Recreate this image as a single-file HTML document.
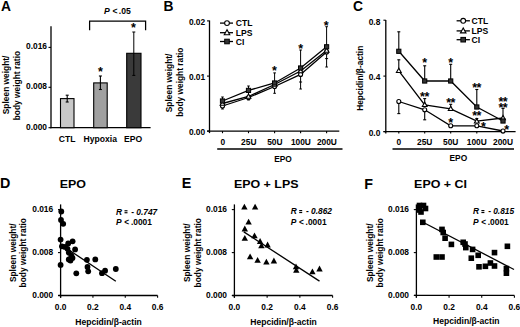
<!DOCTYPE html>
<html><head><meta charset="utf-8"><style>
html,body{margin:0;padding:0;background:#fff;width:520px;height:327px;overflow:hidden}
svg{display:block;font-family:'Liberation Sans',sans-serif;font-weight:bold}
</style></head><body>
<svg width="520" height="327" viewBox="0 0 520 327" fill="#000">
<rect width="520" height="327" fill="#fff"/>
<text x="0.9" y="10.9" font-size="13.8" text-anchor="start">A</text>
<line x1="51.0" y1="26.3" x2="51.0" y2="128.35" stroke="#000" stroke-width="1.3"/>
<line x1="50.35" y1="127.7" x2="150.6" y2="127.7" stroke="#000" stroke-width="1.3"/>
<line x1="48.5" y1="47.4" x2="51.0" y2="47.4" stroke="#000" stroke-width="1.1"/>
<text x="47.0" y="48.699999999999996" font-size="8.4" text-anchor="end">0.016</text>
<line x1="48.5" y1="87.3" x2="51.0" y2="87.3" stroke="#000" stroke-width="1.1"/>
<text x="47.0" y="88.6" font-size="8.4" text-anchor="end">0.008</text>
<line x1="48.5" y1="127.7" x2="51.0" y2="127.7" stroke="#000" stroke-width="1.1"/>
<text x="47.0" y="129.6" font-size="8.4" text-anchor="end">0.000</text>
<text transform="translate(9.2 84.9) rotate(-90)" font-size="8.4" text-anchor="middle">Spleen weight/</text>
<text transform="translate(19.6 85.6) rotate(-90)" font-size="8.4" text-anchor="middle">body weight ratio</text>
<rect x="60.5" y="98.6" width="13.5" height="29.10000000000001" fill="#c8c8c8" stroke="#000" stroke-width="1.1"/>
<line x1="67.2" y1="95.2" x2="67.2" y2="102.0" stroke="#000" stroke-width="1.1"/>
<line x1="65.7" y1="95.2" x2="68.7" y2="95.2" stroke="#000" stroke-width="1.1"/>
<line x1="65.7" y1="102.0" x2="68.7" y2="102.0" stroke="#000" stroke-width="1.1"/>
<rect x="93.7" y="82.9" width="13.5" height="44.8" fill="#a0a0a0" stroke="#000" stroke-width="1.1"/>
<line x1="100.4" y1="76.0" x2="100.4" y2="89.5" stroke="#000" stroke-width="1.1"/>
<line x1="98.9" y1="76.0" x2="101.9" y2="76.0" stroke="#000" stroke-width="1.1"/>
<line x1="98.9" y1="89.5" x2="101.9" y2="89.5" stroke="#000" stroke-width="1.1"/>
<rect x="126.7" y="53.3" width="14.299999999999997" height="74.4" fill="#3a3a3a" stroke="#000" stroke-width="1.1"/>
<line x1="133.8" y1="32.0" x2="133.8" y2="75.4" stroke="#000" stroke-width="1.0"/>
<line x1="132.3" y1="32.0" x2="135.3" y2="32.0" stroke="#000" stroke-width="1.0"/>
<line x1="132.3" y1="75.4" x2="135.3" y2="75.4" stroke="#000" stroke-width="1.0"/>
<text x="100.5" y="76.25" font-size="12.5" text-anchor="middle">*</text>
<text x="133.4" y="32.45" font-size="12.5" text-anchor="middle">*</text>
<polyline points="89.6,30.2 89.6,21.0 145.6,21.0 145.6,30.2" fill="none" stroke="#000" stroke-width="1.25" stroke-linejoin="miter"/>
<text x="104.0" y="13.9" font-size="8.6" text-anchor="start"><tspan font-style="italic">P</tspan><tspan x="112.4">&lt;</tspan><tspan x="118.8">.05</tspan></text>
<text x="67.2" y="142.3" font-size="8.6" text-anchor="middle">CTL</text>
<text x="100.3" y="142.3" font-size="8.6" text-anchor="middle">Hypoxia</text>
<text x="133.2" y="142.3" font-size="8.6" text-anchor="middle">EPO</text>
<text x="163.5" y="10.7" font-size="13.8" text-anchor="start">B</text>
<line x1="209.5" y1="20.5" x2="209.5" y2="133.1" stroke="#000" stroke-width="1.3"/>
<line x1="207.1" y1="131.1" x2="339.3" y2="131.1" stroke="#000" stroke-width="1.3"/>
<line x1="207" y1="20.9" x2="209.5" y2="20.9" stroke="#000" stroke-width="1.1"/>
<text x="205.2" y="24.9" font-size="8.4" text-anchor="end">0.02</text>
<line x1="207" y1="76.1" x2="209.5" y2="76.1" stroke="#000" stroke-width="1.1"/>
<text x="205.2" y="79.8" font-size="8.4" text-anchor="end">0.01</text>
<line x1="207" y1="131.1" x2="209.5" y2="131.1" stroke="#000" stroke-width="1.1"/>
<text x="205.2" y="134.9" font-size="8.4" text-anchor="end">0.00</text>
<text transform="translate(172.4 82.9) rotate(-90)" font-size="8.4" text-anchor="middle">Spleen weight/</text>
<text transform="translate(182.8 82.2) rotate(-90)" font-size="8.4" text-anchor="middle">body weight ratio</text>
<line x1="222.5" y1="131.1" x2="222.5" y2="133.2" stroke="#000" stroke-width="1.1"/>
<text x="222.8" y="144.8" font-size="8.4" text-anchor="middle">0</text>
<line x1="248.5" y1="131.1" x2="248.5" y2="133.2" stroke="#000" stroke-width="1.1"/>
<text x="248.8" y="144.8" font-size="8.4" text-anchor="middle">25U</text>
<line x1="274.6" y1="131.1" x2="274.6" y2="133.2" stroke="#000" stroke-width="1.1"/>
<text x="274.90000000000003" y="144.8" font-size="8.4" text-anchor="middle">50U</text>
<line x1="300.6" y1="131.1" x2="300.6" y2="133.2" stroke="#000" stroke-width="1.1"/>
<text x="300.90000000000003" y="144.8" font-size="8.4" text-anchor="middle">100U</text>
<line x1="326.6" y1="131.1" x2="326.6" y2="133.2" stroke="#000" stroke-width="1.1"/>
<text x="326.90000000000003" y="144.8" font-size="8.4" text-anchor="middle">200U</text>
<line x1="217.2" y1="149.1" x2="342.5" y2="149.1" stroke="#000" stroke-width="1.5"/>
<text x="283" y="161.5" font-size="8.4" text-anchor="middle">EPO</text>
<line x1="222.5" y1="97.0" x2="222.5" y2="109.0" stroke="#000" stroke-width="1.0"/>
<line x1="221.2" y1="97.0" x2="223.8" y2="97.0" stroke="#000" stroke-width="1.0"/>
<line x1="221.2" y1="109.0" x2="223.8" y2="109.0" stroke="#000" stroke-width="1.0"/>
<line x1="248.5" y1="86.0" x2="248.5" y2="100.0" stroke="#000" stroke-width="1.0"/>
<line x1="247.2" y1="86.0" x2="249.8" y2="86.0" stroke="#000" stroke-width="1.0"/>
<line x1="247.2" y1="100.0" x2="249.8" y2="100.0" stroke="#000" stroke-width="1.0"/>
<line x1="274.6" y1="72.9" x2="274.6" y2="93.3" stroke="#000" stroke-width="1.0"/>
<line x1="273.3" y1="72.9" x2="275.90000000000003" y2="72.9" stroke="#000" stroke-width="1.0"/>
<line x1="273.3" y1="93.3" x2="275.90000000000003" y2="93.3" stroke="#000" stroke-width="1.0"/>
<line x1="300.6" y1="50.0" x2="300.6" y2="89.0" stroke="#000" stroke-width="1.0"/>
<line x1="299.3" y1="50.0" x2="301.90000000000003" y2="50.0" stroke="#000" stroke-width="1.0"/>
<line x1="299.3" y1="89.0" x2="301.90000000000003" y2="89.0" stroke="#000" stroke-width="1.0"/>
<line x1="326.6" y1="26.7" x2="326.6" y2="67.0" stroke="#000" stroke-width="1.0"/>
<line x1="325.3" y1="26.7" x2="327.90000000000003" y2="26.7" stroke="#000" stroke-width="1.0"/>
<line x1="325.3" y1="67.0" x2="327.90000000000003" y2="67.0" stroke="#000" stroke-width="1.0"/>
<line x1="299.1" y1="82" x2="302.1" y2="82" stroke="#000" stroke-width="1.0"/>
<line x1="325.1" y1="58.6" x2="328.1" y2="58.6" stroke="#000" stroke-width="1.0"/>
<polyline points="222.5,106.0 248.5,97.5 274.6,86.5 300.6,74.4 326.6,52.0" fill="none" stroke="#000" stroke-width="1.3" stroke-linejoin="miter"/>
<polyline points="222.5,103.5 248.5,96.5 274.6,84.5 300.6,71.0 326.6,50.5" fill="none" stroke="#000" stroke-width="1.3" stroke-linejoin="miter"/>
<polyline points="222.5,101.0 248.5,90.4 274.6,83.0 300.6,68.0 326.6,46.8" fill="none" stroke="#000" stroke-width="1.3" stroke-linejoin="miter"/>
<circle cx="222.5" cy="106.0" r="2.0" fill="#fff" stroke="#000" stroke-width="1.1"/>
<circle cx="248.5" cy="97.5" r="2.0" fill="#fff" stroke="#000" stroke-width="1.1"/>
<circle cx="274.6" cy="86.5" r="2.0" fill="#fff" stroke="#000" stroke-width="1.1"/>
<circle cx="300.6" cy="74.4" r="2.0" fill="#fff" stroke="#000" stroke-width="1.1"/>
<circle cx="326.6" cy="52.0" r="2.0" fill="#fff" stroke="#000" stroke-width="1.1"/>
<polygon points="222.5,100.908 220.1,105.228 224.9,105.228" fill="#fff" stroke="#000" stroke-width="1.1"/>
<polygon points="248.5,93.908 246.1,98.228 250.9,98.228" fill="#fff" stroke="#000" stroke-width="1.1"/>
<polygon points="274.6,81.908 272.20000000000005,86.228 277.0,86.228" fill="#fff" stroke="#000" stroke-width="1.1"/>
<polygon points="300.6,68.408 298.20000000000005,72.728 303.0,72.728" fill="#fff" stroke="#000" stroke-width="1.1"/>
<polygon points="326.6,47.908 324.20000000000005,52.228 329.0,52.228" fill="#fff" stroke="#000" stroke-width="1.1"/>
<rect x="220.4" y="98.9" width="4.2" height="4.2" fill="#333" stroke="#000" stroke-width="1"/>
<rect x="246.4" y="88.30000000000001" width="4.2" height="4.2" fill="#333" stroke="#000" stroke-width="1"/>
<rect x="272.5" y="80.9" width="4.2" height="4.2" fill="#333" stroke="#000" stroke-width="1"/>
<rect x="298.5" y="65.9" width="4.2" height="4.2" fill="#333" stroke="#000" stroke-width="1"/>
<rect x="324.5" y="44.699999999999996" width="4.2" height="4.2" fill="#333" stroke="#000" stroke-width="1"/>
<text x="274.4" y="75.05" font-size="12.5" text-anchor="middle">*</text>
<text x="300.6" y="53.05" font-size="12.5" text-anchor="middle">*</text>
<text x="326.3" y="29.95" font-size="12.5" text-anchor="middle">*</text>
<line x1="220" y1="23.1" x2="233" y2="23.1" stroke="#000" stroke-width="1.3"/>
<circle cx="227.0" cy="23.1" r="2.4" fill="#fff" stroke="#000" stroke-width="1.1"/>
<text x="235.8" y="26.200000000000003" font-size="8.6" text-anchor="start">CTL</text>
<line x1="220" y1="32.7" x2="233" y2="32.7" stroke="#000" stroke-width="1.3"/>
<polygon points="227.0,29.730000000000004 224.25,34.68 229.75,34.68" fill="#fff" stroke="#000" stroke-width="1.1"/>
<text x="235.8" y="35.800000000000004" font-size="8.6" text-anchor="start">LPS</text>
<line x1="220" y1="41.5" x2="233" y2="41.5" stroke="#000" stroke-width="1.3"/>
<rect x="224.7" y="39.2" width="4.6" height="4.6" fill="#333" stroke="#000" stroke-width="1"/>
<text x="235.8" y="44.6" font-size="8.6" text-anchor="start">CI</text>
<text x="353.1" y="11.3" font-size="13.8" text-anchor="start">C</text>
<line x1="385.8" y1="20.0" x2="385.8" y2="133.6" stroke="#000" stroke-width="1.3"/>
<line x1="383.5" y1="131.6" x2="515.6" y2="131.6" stroke="#000" stroke-width="1.3"/>
<line x1="383.4" y1="20.2" x2="385.8" y2="20.2" stroke="#000" stroke-width="1.1"/>
<text x="380.3" y="24.9" font-size="8.4" text-anchor="end">0.8</text>
<line x1="383.4" y1="76.1" x2="385.8" y2="76.1" stroke="#000" stroke-width="1.1"/>
<text x="380.3" y="79.8" font-size="8.4" text-anchor="end">0.4</text>
<line x1="383.4" y1="131.6" x2="385.8" y2="131.6" stroke="#000" stroke-width="1.1"/>
<text x="380.3" y="135.8" font-size="8.4" text-anchor="end">0.0</text>
<text transform="translate(363.3 78.3) rotate(-90)" font-size="8.4" text-anchor="middle">Hepcidin/β-actin</text>
<line x1="398.8" y1="131.6" x2="398.8" y2="133.6" stroke="#000" stroke-width="1.1"/>
<text x="398.8" y="144.8" font-size="8.4" text-anchor="middle">0</text>
<line x1="424.7" y1="131.6" x2="424.7" y2="133.6" stroke="#000" stroke-width="1.1"/>
<text x="424.7" y="144.8" font-size="8.4" text-anchor="middle">25U</text>
<line x1="450.7" y1="131.6" x2="450.7" y2="133.6" stroke="#000" stroke-width="1.1"/>
<text x="450.7" y="144.8" font-size="8.4" text-anchor="middle">50U</text>
<line x1="476.8" y1="131.6" x2="476.8" y2="133.6" stroke="#000" stroke-width="1.1"/>
<text x="476.8" y="144.8" font-size="8.4" text-anchor="middle">100U</text>
<line x1="503.0" y1="131.6" x2="503.0" y2="133.6" stroke="#000" stroke-width="1.1"/>
<text x="503.0" y="144.8" font-size="8.4" text-anchor="middle">200U</text>
<line x1="392.5" y1="149.1" x2="514" y2="149.1" stroke="#000" stroke-width="1.5"/>
<text x="458.3" y="161.0" font-size="8.4" text-anchor="middle">EPO</text>
<line x1="398.8" y1="51.3" x2="398.8" y2="31.8" stroke="#000" stroke-width="1.1"/>
<line x1="397.3" y1="31.8" x2="400.3" y2="31.8" stroke="#000" stroke-width="1.1"/>
<line x1="398.8" y1="70.8" x2="398.8" y2="59.8" stroke="#000" stroke-width="1.1"/>
<line x1="397.3" y1="59.8" x2="400.3" y2="59.8" stroke="#000" stroke-width="1.1"/>
<line x1="398.8" y1="101.5" x2="398.8" y2="113.6" stroke="#000" stroke-width="1.1"/>
<line x1="397.3" y1="113.6" x2="400.3" y2="113.6" stroke="#000" stroke-width="1.1"/>
<line x1="424.7" y1="81.0" x2="424.7" y2="65.8" stroke="#000" stroke-width="1.1"/>
<line x1="423.2" y1="65.8" x2="426.2" y2="65.8" stroke="#000" stroke-width="1.1"/>
<line x1="424.7" y1="104.8" x2="424.7" y2="98.6" stroke="#000" stroke-width="1.1"/>
<line x1="423.2" y1="98.6" x2="426.2" y2="98.6" stroke="#000" stroke-width="1.1"/>
<line x1="424.7" y1="109.8" x2="424.7" y2="119.8" stroke="#000" stroke-width="1.1"/>
<line x1="423.2" y1="119.8" x2="426.2" y2="119.8" stroke="#000" stroke-width="1.1"/>
<line x1="450.7" y1="81.0" x2="450.7" y2="64.3" stroke="#000" stroke-width="1.1"/>
<line x1="449.2" y1="64.3" x2="452.2" y2="64.3" stroke="#000" stroke-width="1.1"/>
<line x1="450.7" y1="108.8" x2="450.7" y2="104.3" stroke="#000" stroke-width="1.1"/>
<line x1="449.2" y1="104.3" x2="452.2" y2="104.3" stroke="#000" stroke-width="1.1"/>
<line x1="476.8" y1="107.0" x2="476.8" y2="89.5" stroke="#000" stroke-width="1.1"/>
<line x1="475.3" y1="89.5" x2="478.3" y2="89.5" stroke="#000" stroke-width="1.1"/>
<line x1="476.8" y1="121.2" x2="476.8" y2="118.5" stroke="#000" stroke-width="1.1"/>
<line x1="475.3" y1="118.5" x2="478.3" y2="118.5" stroke="#000" stroke-width="1.1"/>
<line x1="503.0" y1="121.0" x2="503.0" y2="108.4" stroke="#000" stroke-width="1.1"/>
<line x1="501.5" y1="108.4" x2="504.5" y2="108.4" stroke="#000" stroke-width="1.1"/>
<polyline points="398.8,101.5 424.7,109.8 450.7,125.8 476.8,125.8 503.0,131.0" fill="none" stroke="#000" stroke-width="1.3" stroke-linejoin="miter"/>
<polyline points="398.8,70.8 424.7,104.8 450.7,108.8 476.8,121.2 503.0,118.0" fill="none" stroke="#000" stroke-width="1.3" stroke-linejoin="miter"/>
<polyline points="398.8,51.3 424.7,81.0 450.7,81.0 476.8,107.0 503.0,121.0" fill="none" stroke="#000" stroke-width="1.3" stroke-linejoin="miter"/>
<circle cx="398.8" cy="101.5" r="2.0" fill="#fff" stroke="#000" stroke-width="1.1"/>
<circle cx="424.7" cy="109.8" r="2.0" fill="#fff" stroke="#000" stroke-width="1.1"/>
<circle cx="450.7" cy="125.8" r="2.0" fill="#fff" stroke="#000" stroke-width="1.1"/>
<circle cx="476.8" cy="125.8" r="2.0" fill="#fff" stroke="#000" stroke-width="1.1"/>
<circle cx="503.0" cy="131.0" r="2.0" fill="#fff" stroke="#000" stroke-width="1.1"/>
<polygon points="398.8,68.208 396.40000000000003,72.52799999999999 401.2,72.52799999999999" fill="#fff" stroke="#000" stroke-width="1.1"/>
<polygon points="424.7,102.208 422.3,106.52799999999999 427.09999999999997,106.52799999999999" fill="#fff" stroke="#000" stroke-width="1.1"/>
<polygon points="450.7,106.208 448.3,110.52799999999999 453.09999999999997,110.52799999999999" fill="#fff" stroke="#000" stroke-width="1.1"/>
<polygon points="476.8,118.608 474.40000000000003,122.928 479.2,122.928" fill="#fff" stroke="#000" stroke-width="1.1"/>
<polygon points="503.0,115.408 500.6,119.728 505.4,119.728" fill="#fff" stroke="#000" stroke-width="1.1"/>
<rect x="396.7" y="49.199999999999996" width="4.2" height="4.2" fill="#333" stroke="#000" stroke-width="1"/>
<rect x="422.59999999999997" y="78.9" width="4.2" height="4.2" fill="#333" stroke="#000" stroke-width="1"/>
<rect x="448.59999999999997" y="78.9" width="4.2" height="4.2" fill="#333" stroke="#000" stroke-width="1"/>
<rect x="474.7" y="104.9" width="4.2" height="4.2" fill="#333" stroke="#000" stroke-width="1"/>
<rect x="500.9" y="118.9" width="4.2" height="4.2" fill="#333" stroke="#000" stroke-width="1"/>
<text x="424.7" y="66.75" font-size="12.5" text-anchor="middle">*</text>
<text x="450.8" y="66.75" font-size="12.5" text-anchor="middle">*</text>
<text x="483.5" y="130.75" font-size="12.5" text-anchor="middle">*</text>
<text x="506.8" y="134.45" font-size="12.5" text-anchor="middle">*</text>
<text x="450.8" y="127.05" font-size="12.5" text-anchor="middle">*</text>
<text x="422.55" y="101.25" font-size="12.5" text-anchor="middle">*</text>
<text x="426.84999999999997" y="101.25" font-size="12.5" text-anchor="middle">*</text>
<text x="448.65000000000003" y="106.55" font-size="12.5" text-anchor="middle">*</text>
<text x="452.95" y="106.55" font-size="12.5" text-anchor="middle">*</text>
<text x="474.65000000000003" y="92.25" font-size="12.5" text-anchor="middle">*</text>
<text x="478.95" y="92.25" font-size="12.5" text-anchor="middle">*</text>
<text x="474.65000000000003" y="119.85" font-size="12.5" text-anchor="middle">*</text>
<text x="478.95" y="119.85" font-size="12.5" text-anchor="middle">*</text>
<text x="500.85" y="106.25" font-size="12.5" text-anchor="middle">*</text>
<text x="505.15" y="106.25" font-size="12.5" text-anchor="middle">*</text>
<text x="500.85" y="111.85" font-size="12.5" text-anchor="middle">*</text>
<text x="505.15" y="111.85" font-size="12.5" text-anchor="middle">*</text>
<line x1="456.6" y1="20.8" x2="469.9" y2="20.8" stroke="#000" stroke-width="1.3"/>
<circle cx="463.2" cy="20.8" r="2.4" fill="#fff" stroke="#000" stroke-width="1.1"/>
<text x="471.5" y="23.900000000000002" font-size="8.6" text-anchor="start">CTL</text>
<line x1="456.6" y1="30.9" x2="469.9" y2="30.9" stroke="#000" stroke-width="1.3"/>
<polygon points="463.2,27.93 460.45,32.879999999999995 465.95,32.879999999999995" fill="#fff" stroke="#000" stroke-width="1.1"/>
<text x="471.5" y="34.0" font-size="8.6" text-anchor="start">LPS</text>
<line x1="456.6" y1="39.7" x2="469.9" y2="39.7" stroke="#000" stroke-width="1.3"/>
<rect x="460.9" y="37.400000000000006" width="4.6" height="4.6" fill="#333" stroke="#000" stroke-width="1"/>
<text x="471.5" y="42.800000000000004" font-size="8.6" text-anchor="start">CI</text>
<text x="0.0" y="187.6" font-size="14.3" text-anchor="start">D</text>
<text transform="translate(72.8 188.4) scale(1.055 1)" font-size="11.8" text-anchor="middle">EPO</text>
<line x1="60.6" y1="204.4" x2="60.6" y2="297.7" stroke="#000" stroke-width="1.3"/>
<line x1="58.300000000000004" y1="295.5" x2="157.6" y2="295.5" stroke="#000" stroke-width="1.3"/>
<line x1="58.0" y1="209.6" x2="60.6" y2="209.6" stroke="#000" stroke-width="1.1"/>
<text x="53.2" y="211.7" font-size="8.4" text-anchor="end">0.016</text>
<line x1="58.0" y1="252.6" x2="60.6" y2="252.6" stroke="#000" stroke-width="1.1"/>
<text x="53.2" y="254.9" font-size="8.4" text-anchor="end">0.008</text>
<line x1="58.0" y1="295.5" x2="60.6" y2="295.5" stroke="#000" stroke-width="1.1"/>
<text x="53.2" y="297.8" font-size="8.4" text-anchor="end">0.000</text>
<line x1="60.6" y1="295.5" x2="60.6" y2="297.8" stroke="#000" stroke-width="1.1"/>
<text x="60.6" y="309.8" font-size="8.4" text-anchor="middle">0.0</text>
<line x1="92.93333333333334" y1="295.5" x2="92.93333333333334" y2="297.8" stroke="#000" stroke-width="1.1"/>
<text x="92.93333333333334" y="309.8" font-size="8.4" text-anchor="middle">0.2</text>
<line x1="125.26666666666668" y1="295.5" x2="125.26666666666668" y2="297.8" stroke="#000" stroke-width="1.1"/>
<text x="125.26666666666668" y="309.8" font-size="8.4" text-anchor="middle">0.4</text>
<line x1="157.6" y1="295.5" x2="157.6" y2="297.8" stroke="#000" stroke-width="1.1"/>
<text x="157.6" y="309.8" font-size="8.4" text-anchor="middle">0.6</text>
<text transform="translate(16.1 252.8) rotate(-90)" font-size="8.4" text-anchor="middle">Spleen weight/</text>
<text transform="translate(26.3 252.8) rotate(-90)" font-size="8.4" text-anchor="middle">body weight ratio</text>
<text transform="translate(108.5 324.5) scale(1.02 1)" font-size="8.4" text-anchor="middle">Hepcidin/β-actin</text>
<line x1="61.5" y1="245.0" x2="115.8" y2="281.3" stroke="#000" stroke-width="1.3"/>
<circle cx="61.3" cy="211.5" r="2.9" fill="#000"/>
<circle cx="61.0" cy="220.0" r="2.9" fill="#000"/>
<circle cx="63.2" cy="223.8" r="2.9" fill="#000"/>
<circle cx="60.6" cy="239.6" r="2.9" fill="#000"/>
<circle cx="72.6" cy="241.3" r="2.9" fill="#000"/>
<circle cx="68.2" cy="243.5" r="2.9" fill="#000"/>
<circle cx="61.9" cy="246.3" r="2.9" fill="#000"/>
<circle cx="65" cy="246.9" r="2.9" fill="#000"/>
<circle cx="67.5" cy="248.8" r="2.9" fill="#000"/>
<circle cx="75.1" cy="249.4" r="2.9" fill="#000"/>
<circle cx="68.8" cy="252.6" r="2.9" fill="#000"/>
<circle cx="71.3" cy="255.7" r="2.9" fill="#000"/>
<circle cx="68.8" cy="259.5" r="2.9" fill="#000"/>
<circle cx="86.9" cy="259.8" r="2.9" fill="#000"/>
<circle cx="95.3" cy="259.4" r="2.9" fill="#000"/>
<circle cx="60.6" cy="264.9" r="2.9" fill="#000"/>
<circle cx="87.5" cy="266.9" r="2.9" fill="#000"/>
<circle cx="88.2" cy="271.3" r="2.9" fill="#000"/>
<circle cx="76.3" cy="273.3" r="2.9" fill="#000"/>
<circle cx="105.1" cy="270.7" r="2.9" fill="#000"/>
<circle cx="102" cy="273.2" r="2.9" fill="#000"/>
<circle cx="115.8" cy="269.0" r="2.9" fill="#000"/>
<circle cx="70.5" cy="260.5" r="2.9" fill="#000"/>
<circle cx="72.5" cy="258.0" r="2.9" fill="#000"/>
<text x="116.0" y="214.5" font-size="8.4" text-anchor="start"><tspan font-style="italic">R</tspan></text>
<rect x="124.5" y="210.2" width="3.0" height="1.15" fill="#000"/>
<rect x="124.5" y="212.15" width="3.0" height="1.15" fill="#000"/>
<text x="131.3" y="214.5" font-size="8.4" text-anchor="start">-</text>
<text x="136.3" y="214.5" font-size="8.4" text-anchor="start" font-style="italic">0.747</text>
<text x="116.0" y="224.7" font-size="8.4" text-anchor="start"><tspan font-style="italic">P</tspan><tspan x="124.3">&lt;</tspan><tspan x="130.9">.0001</tspan></text>
<text x="181.7" y="188.3" font-size="14.3" text-anchor="start">E</text>
<text transform="translate(266.2 188.4) scale(1.055 1)" font-size="11.8" text-anchor="middle">EPO + LPS</text>
<line x1="234.4" y1="204.4" x2="234.4" y2="297.7" stroke="#000" stroke-width="1.3"/>
<line x1="232.1" y1="295.5" x2="332.6" y2="295.5" stroke="#000" stroke-width="1.3"/>
<line x1="231.8" y1="209.6" x2="234.4" y2="209.6" stroke="#000" stroke-width="1.1"/>
<text x="227.0" y="211.7" font-size="8.4" text-anchor="end">0.016</text>
<line x1="231.8" y1="252.6" x2="234.4" y2="252.6" stroke="#000" stroke-width="1.1"/>
<text x="227.0" y="254.9" font-size="8.4" text-anchor="end">0.008</text>
<line x1="231.8" y1="295.5" x2="234.4" y2="295.5" stroke="#000" stroke-width="1.1"/>
<text x="227.0" y="297.8" font-size="8.4" text-anchor="end">0.000</text>
<line x1="234.4" y1="295.5" x2="234.4" y2="297.8" stroke="#000" stroke-width="1.1"/>
<text x="234.4" y="309.8" font-size="8.4" text-anchor="middle">0.0</text>
<line x1="267.1333333333333" y1="295.5" x2="267.1333333333333" y2="297.8" stroke="#000" stroke-width="1.1"/>
<text x="267.1333333333333" y="309.8" font-size="8.4" text-anchor="middle">0.2</text>
<line x1="299.8666666666667" y1="295.5" x2="299.8666666666667" y2="297.8" stroke="#000" stroke-width="1.1"/>
<text x="299.8666666666667" y="309.8" font-size="8.4" text-anchor="middle">0.4</text>
<line x1="332.6" y1="295.5" x2="332.6" y2="297.8" stroke="#000" stroke-width="1.1"/>
<text x="332.6" y="309.8" font-size="8.4" text-anchor="middle">0.6</text>
<text transform="translate(190.3 252.8) rotate(-90)" font-size="8.4" text-anchor="middle">Spleen weight/</text>
<text transform="translate(200.5 252.8) rotate(-90)" font-size="8.4" text-anchor="middle">body weight ratio</text>
<text transform="translate(283.5 324.5) scale(1.02 1)" font-size="8.4" text-anchor="middle">Hepcidin/β-actin</text>
<line x1="243.8" y1="231.9" x2="319.5" y2="281.1" stroke="#000" stroke-width="1.3"/>
<polygon points="244.4,203.71 241.20000000000002,209.51000000000002 247.6,209.51000000000002" fill="#000"/>
<polygon points="255.1,203.71 251.9,209.51000000000002 258.3,209.51000000000002" fill="#000"/>
<polygon points="248.6,218.81 245.4,224.61 251.79999999999998,224.61" fill="#000"/>
<polygon points="244.8,225.61 241.60000000000002,231.41000000000003 248.0,231.41000000000003" fill="#000"/>
<polygon points="244.8,235.01 241.60000000000002,240.81 248.0,240.81" fill="#000"/>
<polygon points="254.5,232.51 251.3,238.31 257.7,238.31" fill="#000"/>
<polygon points="260.1,238.11 256.90000000000003,243.91000000000003 263.3,243.91000000000003" fill="#000"/>
<polygon points="261.4,242.51 258.2,248.31 264.59999999999997,248.31" fill="#000"/>
<polygon points="267.6,241.61 264.40000000000003,247.41000000000003 270.8,247.41000000000003" fill="#000"/>
<polygon points="250.1,253.41000000000003 246.9,259.21000000000004 253.29999999999998,259.21000000000004" fill="#000"/>
<polygon points="257.6,256.91 254.40000000000003,262.71000000000004 260.8,262.71000000000004" fill="#000"/>
<polygon points="266.4,258.81 263.2,264.61 269.59999999999997,264.61" fill="#000"/>
<polygon points="273.9,257.61 270.7,263.41 277.09999999999997,263.41" fill="#000"/>
<polygon points="296,263.41 292.8,269.21000000000004 299.2,269.21000000000004" fill="#000"/>
<polygon points="296.3,266.91 293.1,272.71000000000004 299.5,272.71000000000004" fill="#000"/>
<polygon points="312.4,268.41 309.2,274.21000000000004 315.59999999999997,274.21000000000004" fill="#000"/>
<polygon points="319.5,265.61 316.3,271.41 322.7,271.41" fill="#000"/>
<text x="290.7" y="214.3" font-size="8.4" text-anchor="start"><tspan font-style="italic">R</tspan></text>
<rect x="299.2" y="210.0" width="3.0" height="1.15" fill="#000"/>
<rect x="299.2" y="211.95000000000002" width="3.0" height="1.15" fill="#000"/>
<text x="306.0" y="214.3" font-size="8.4" text-anchor="start">-</text>
<text x="311.0" y="214.3" font-size="8.4" text-anchor="start" font-style="italic">0.862</text>
<text x="290.7" y="224.7" font-size="8.4" text-anchor="start"><tspan font-style="italic">P</tspan><tspan x="299.0">&lt;</tspan><tspan x="305.6">.0001</tspan></text>
<text x="364.2" y="188.6" font-size="14.3" text-anchor="start">F</text>
<text transform="translate(440.5 188.4) scale(1.055 1)" font-size="11.8" text-anchor="middle">EPO + CI</text>
<line x1="416.4" y1="204.4" x2="416.4" y2="297.59999999999997" stroke="#000" stroke-width="1.3"/>
<line x1="414.09999999999997" y1="295.4" x2="514.4" y2="295.4" stroke="#000" stroke-width="1.3"/>
<line x1="413.79999999999995" y1="209.6" x2="416.4" y2="209.6" stroke="#000" stroke-width="1.1"/>
<text x="409.0" y="211.7" font-size="8.4" text-anchor="end">0.016</text>
<line x1="413.79999999999995" y1="252.6" x2="416.4" y2="252.6" stroke="#000" stroke-width="1.1"/>
<text x="409.0" y="254.9" font-size="8.4" text-anchor="end">0.008</text>
<line x1="413.79999999999995" y1="295.4" x2="416.4" y2="295.4" stroke="#000" stroke-width="1.1"/>
<text x="409.0" y="297.8" font-size="8.4" text-anchor="end">0.000</text>
<line x1="416.4" y1="295.4" x2="416.4" y2="297.7" stroke="#000" stroke-width="1.1"/>
<text x="416.4" y="309.8" font-size="8.4" text-anchor="middle">0.0</text>
<line x1="449.06666666666666" y1="295.4" x2="449.06666666666666" y2="297.7" stroke="#000" stroke-width="1.1"/>
<text x="449.06666666666666" y="309.8" font-size="8.4" text-anchor="middle">0.2</text>
<line x1="481.7333333333333" y1="295.4" x2="481.7333333333333" y2="297.7" stroke="#000" stroke-width="1.1"/>
<text x="481.7333333333333" y="309.8" font-size="8.4" text-anchor="middle">0.4</text>
<line x1="514.4" y1="295.4" x2="514.4" y2="297.7" stroke="#000" stroke-width="1.1"/>
<text x="514.4" y="309.8" font-size="8.4" text-anchor="middle">0.6</text>
<text transform="translate(373.1 252.8) rotate(-90)" font-size="8.4" text-anchor="middle">Spleen weight/</text>
<text transform="translate(383.3 252.8) rotate(-90)" font-size="8.4" text-anchor="middle">body weight ratio</text>
<text transform="translate(466.3 324.0) scale(1.02 1)" font-size="8.4" text-anchor="middle">Hepcidin/β-actin</text>
<line x1="422.5" y1="222.0" x2="514" y2="269.5" stroke="#000" stroke-width="1.3"/>
<rect x="416.7" y="202.7" width="5.6" height="5.6" fill="#000"/>
<rect x="420.7" y="202.7" width="5.6" height="5.6" fill="#000"/>
<rect x="422.7" y="205.7" width="5.6" height="5.6" fill="#000"/>
<rect x="416.7" y="207.2" width="5.6" height="5.6" fill="#000"/>
<rect x="418.2" y="209.2" width="5.6" height="5.6" fill="#000"/>
<rect x="420.0" y="219.5" width="5.6" height="5.6" fill="#000"/>
<rect x="439.2" y="226.6" width="5.6" height="5.6" fill="#000"/>
<rect x="440.4" y="229.7" width="5.6" height="5.6" fill="#000"/>
<rect x="442.3" y="235.39999999999998" width="5.6" height="5.6" fill="#000"/>
<rect x="448.59999999999997" y="241.6" width="5.6" height="5.6" fill="#000"/>
<rect x="462.2" y="241.2" width="5.6" height="5.6" fill="#000"/>
<rect x="463.0" y="244.79999999999998" width="5.6" height="5.6" fill="#000"/>
<rect x="469.8" y="246.6" width="5.6" height="5.6" fill="#000"/>
<rect x="475.4" y="252.5" width="5.6" height="5.6" fill="#000"/>
<rect x="468.5" y="255.39999999999998" width="5.6" height="5.6" fill="#000"/>
<rect x="433.5" y="254.2" width="5.6" height="5.6" fill="#000"/>
<rect x="439.2" y="254.2" width="5.6" height="5.6" fill="#000"/>
<rect x="491.7" y="249.79999999999998" width="5.6" height="5.6" fill="#000"/>
<rect x="504.59999999999997" y="243.5" width="5.6" height="5.6" fill="#000"/>
<rect x="476.2" y="264.0" width="5.6" height="5.6" fill="#000"/>
<rect x="482.59999999999997" y="263.5" width="5.6" height="5.6" fill="#000"/>
<rect x="487.59999999999997" y="260.2" width="5.6" height="5.6" fill="#000"/>
<rect x="491.7" y="263.2" width="5.6" height="5.6" fill="#000"/>
<rect x="503.59999999999997" y="265.8" width="5.6" height="5.6" fill="#000"/>
<rect x="503.59999999999997" y="270.4" width="5.6" height="5.6" fill="#000"/>
<rect x="460.4" y="239.5" width="5.6" height="5.6" fill="#000"/>
<text x="472.9" y="214.3" font-size="8.4" text-anchor="start"><tspan font-style="italic">R</tspan></text>
<rect x="481.4" y="210.0" width="3.0" height="1.15" fill="#000"/>
<rect x="481.4" y="211.95000000000002" width="3.0" height="1.15" fill="#000"/>
<text x="488.2" y="214.3" font-size="8.4" text-anchor="start">-</text>
<text x="493.2" y="214.3" font-size="8.4" text-anchor="start" font-style="italic">0.815</text>
<text x="472.9" y="224.7" font-size="8.4" text-anchor="start"><tspan font-style="italic">P</tspan><tspan x="481.2">&lt;</tspan><tspan x="487.8">.0001</tspan></text>
</svg></body></html>
